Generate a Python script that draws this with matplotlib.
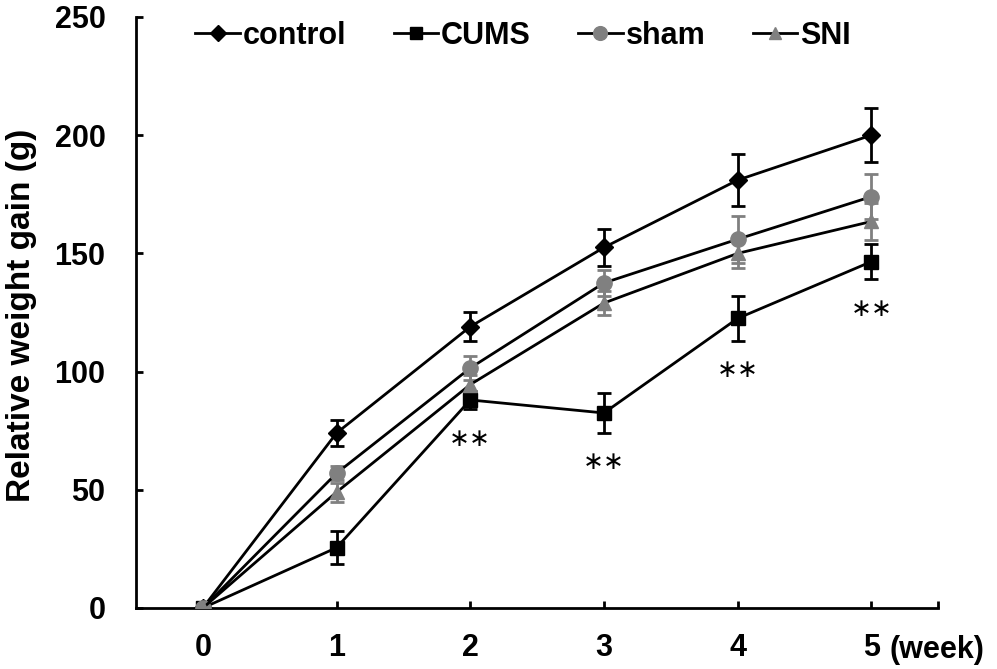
import matplotlib
matplotlib.use("Agg")
from matplotlib import pyplot as plt

weeks = [0, 1, 2, 3, 4, 5]

control = [0, 74, 119, 152.5, 181, 200]
control_err = [0, 5.5, 6, 8, 11, 11.5]
cums = [0, 25.5, 88, 82.5, 122.5, 146.5]
cums_err = [0, 7, 4, 8.5, 9.5, 7.5]
sham = [0, 57, 101.5, 137.5, 156, 174]
sham_err = [0, 3, 5, 5.5, 10, 9.5]
sni = [0, 49, 94.5, 129, 150, 163.5]
sni_err = [0, 4, 4, 5, 6, 8]

signif_weeks = [2, 3, 4, 5]

plt.rcParams['font.family'] = ['Liberation Sans', 'DejaVu Sans']
plt.rcParams['font.weight'] = 'bold'

fig = plt.figure(figsize=(9.97, 6.69), dpi=100)
ax = fig.add_axes([0.1364, 0.0912, 0.8046, 0.8834])

gray = '#808080'
series = [
    ("control", control, control_err, 'D', 'black', 9),
    ("CUMS", cums, cums_err, 's', 'black', 10),
    ("sham", sham, sham_err, 'o', gray, 11),
    ("SNI", sni, sni_err, '^', gray, 10),
]
for name, vals, errs, mk, col, ms in series:
    ax.errorbar(weeks, vals, yerr=errs, fmt='none', ecolor=col, elinewidth=2,
                capsize=5, capthick=2, zorder=2)
    ax.plot(weeks, vals, color='black', lw=2, marker=mk, markersize=ms,
            markerfacecolor=col, markeredgecolor=col, label=name, zorder=3)

# significance marks under CUMS
for w in signif_weeks:
    ax.annotate("∗∗", xy=(w, cums[w] - cums_err[w]), xytext=(0, -21),
                textcoords='offset points', ha='center', va='center',
                fontsize=18, fontweight='normal', family='DejaVu Sans')

ax.set_xlim(-0.5, 5.5)
ax.set_ylim(0, 250)
ax.set_xticks(weeks)
ax.set_xticklabels([str(w) for w in weeks])
ax.set_xticks([5.5], minor=True)
ax.set_yticks([0, 50, 100, 150, 200, 250])
ax.tick_params(axis='both', which='both', direction='in', length=5, width=2,
               labelsize=22, pad=18)
ax.tick_params(axis='x', which='minor', length=5)
ax.tick_params(axis='y', pad=22)
ax.annotate("(week)", xy=(5, 0), xycoords=('data', 'axes fraction'),
            xytext=(13, -30), textcoords='offset points', ha='left', va='center',
            fontsize=22, fontweight='bold')

for s in ['top', 'right']:
    ax.spines[s].set_visible(False)
for s in ['left', 'bottom']:
    ax.spines[s].set_linewidth(2)

ax.set_ylabel("Relative weight gain (g)", fontsize=24, fontweight='bold',
              va='center', ha='center')
ax.yaxis.set_label_coords(-0.143, 0.495)

ax.legend(loc='upper center', bbox_to_anchor=(0.4825, 1.04), ncol=4, frameon=False,
          fontsize=22, handlelength=1.45, handletextpad=0.1, columnspacing=1.55,
          markerscale=0.9)

fig.savefig("out.png", dpi=100)
